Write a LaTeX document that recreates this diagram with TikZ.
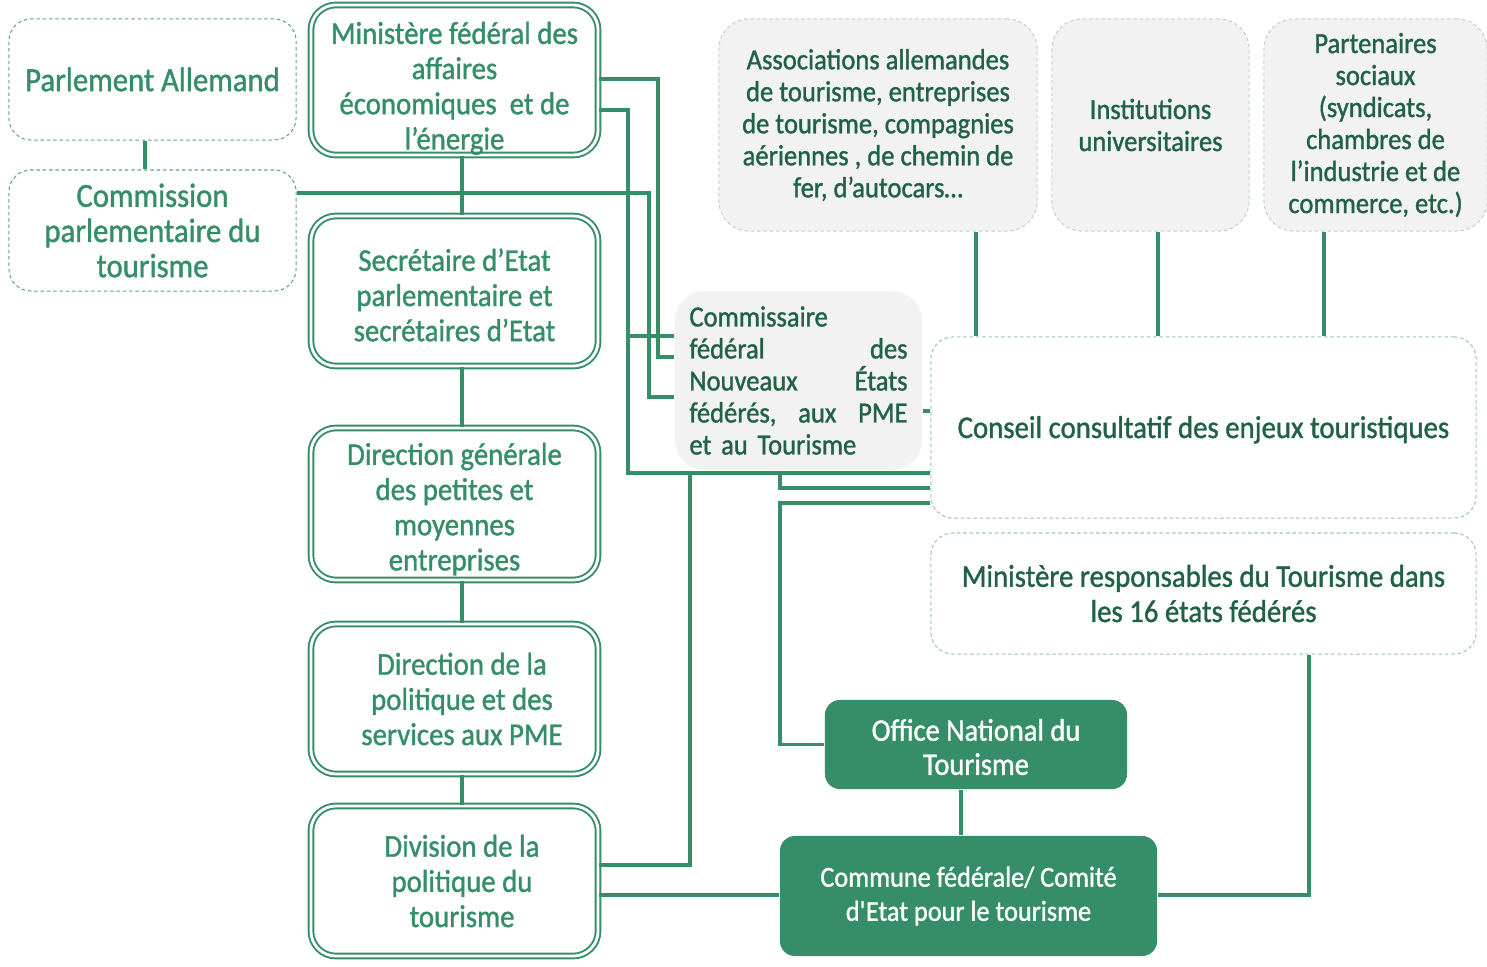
\documentclass[tikz,border=0pt]{standalone}
\usepackage{fontspec}
\setmainfont[FakeStretch=0.91, FakeBold=1.2]{Carlito}
\usetikzlibrary{positioning, calc}
\definecolor{tgreen}{RGB}{53,142,103}
\definecolor{tdark}{RGB}{33,98,70}
\definecolor{tgrey}{RGB}{242,242,242}

\tikzset{
  dashbox/.style={draw=tgreen!80, dash pattern=on 1pt off 0.8pt, line width=0.3pt, rounded corners=0.22cm,
    text=tgreen, align=center, inner sep=0pt, font=\fontsize{9.6}{10}\selectfont},
  dblbox/.style={draw=tgreen, double=white, line width=0.55pt, double distance=0.8pt,
    rounded corners=0.25cm, text=tgreen, align=center, inner sep=0pt,
    minimum width=2.87cm, minimum height=1.5cm, font=\fontsize{9}{10}\selectfont},
  greybox/.style={fill=tgrey, draw=tgreen!35, dash pattern=on 1pt off 0.8pt, line width=0.3pt,
    rounded corners=0.3cm, text=tdark, align=center, inner sep=0pt,
    minimum height=2.12cm, font=\fontsize{8.3}{9.1}\selectfont},
  fillbox/.style={fill=tgreen, text=white, rounded corners=0.15cm, align=center,
    inner sep=0pt, font=\fontsize{8.2}{9.7}\selectfont},
  link/.style={draw=tgreen, line width=0.95pt},
}

\begin{document}
\begin{tikzpicture}[x=0.01cm, y=-0.01cm]
\useasboundingbox (0,0) rectangle (1487,966);

% Parliament side
\node[dashbox, minimum width=2.87cm, minimum height=1.21cm] (parl) at (152.5,79.5) {Parlement Allemand};
\node[dashbox, minimum width=2.87cm, minimum height=1.21cm] (comm) at (152.5,230.5) {Commission\\parlementaire du\\tourisme};

% Ministry hierarchy
\node[dblbox] (min) at (454.5,80) {\rule{0pt}{11pt}Ministère fédéral des\\affaires\\économiques\ \ et de\\l’énergie};
\node[dblbox] (sec) at (454.5,291) {\rule{0pt}{8.6pt}Secrétaire d’Etat\\parlementaire et\\secrétaires d’Etat};
\node[dblbox, minimum height=1.52cm] (dgpme) at (454.5,504) {\rule{0pt}{9.2pt}Direction générale\\des petites et\\moyennes\\entreprises};
\node[dblbox] (dir) at (454.5,699) {\hspace{0.15cm}Direction de la\\\hspace{0.15cm}politique et des\\\hspace{0.15cm}services aux PME};
\node[dblbox] (div) at (454.5,881) {\hspace{0.15cm}Division de la\\\hspace{0.15cm}politique du\\\hspace{0.15cm}tourisme};

% Stakeholders
\node[greybox, minimum width=3.18cm] (assoc) at (878,125) {Associations allemandes\\de tourisme, entreprises\\de tourisme, compagnies\\aériennes , de chemin de\\fer, d’autocars…};
\node[greybox, minimum width=1.97cm] (inst) at (1150.5,125) {Institutions\\universitaires};
\node[greybox, minimum width=2.23cm] (part) at (1375.5,125) {Partenaires\\sociaux\\(syndicats,\\chambres de\\l’industrie et de\\commerce, etc.)};

% Commissioner
\node[fill=tgrey, rounded corners=0.3cm, text=tdark, inner sep=0pt, minimum width=2.47cm,
  minimum height=1.79cm, align=left, text width=2.18cm, font=\fontsize{8.3}{9.1}\selectfont]
  (commiss) at (798.5,380.5) {Commissaire\\
  \makebox[2.18cm][l]{fédéral\hfill des}\\
  \makebox[2.18cm][l]{Nouveaux\hfill États}\\
  \makebox[2.18cm][l]{fédérés,\hfill aux\hfill PME}\\
  et au Tourisme};

% Council and states
\node[dashbox, text=tdark, draw=tgreen!50, minimum width=5.45cm, minimum height=1.81cm,
  font=\fontsize{9}{10}\selectfont] (conseil) at (1203.5,427.5) {\rule{0pt}{7.5pt}Conseil consultatif des enjeux touristiques};
\node[dashbox, text=tdark, draw=tgreen!50, minimum width=5.45cm, minimum height=1.21cm,
  font=\fontsize{9}{10}\selectfont] (minl) at (1203.5,593.5) {Ministère responsables du Tourisme dans\\les 16 états fédérés};

% Tourism bodies
\node[fillbox, minimum width=3.02cm, minimum height=0.89cm, font=\fontsize{8.9}{9.7}\selectfont] (onat) at (976,744.5) {\rule{0pt}{7.6pt}Office National du\\Tourisme};
\node[fillbox, minimum width=3.77cm, minimum height=1.2cm] (commune) at (968.5,896) {Commune fédérale/ Comité\\d\textquotesingle Etat pour le tourisme};

% Left column links
\draw[link] ([xshift=-0.075cm]parl.south) -- ([xshift=-0.075cm]comm.north);
\draw[link] ([xshift=0.075cm]min.south) -- ([xshift=0.075cm]sec.north);
\draw[link] ([xshift=0.075cm]sec.south) -- ([xshift=0.075cm]dgpme.north);
\draw[link] ([xshift=0.075cm]dgpme.south) -- ([xshift=0.075cm]dir.north);
\draw[link] ([xshift=0.075cm]dir.south) -- ([xshift=0.075cm]div.north);

% Links to the commissioner
\draw[link] (min.east |- 0,79) -| (658,357) -- (commiss.west |- 0,357);
\draw[link] (min.east |- 0,110) -| (628,473) -- (conseil.west |- 0,473);
\draw[link] (628,336) -- (commiss.west |- 0,336);
\draw[link] (comm.east |- 0,193) -| (649,397) -- (commiss.west |- 0,397);
\draw[link] (commiss.east |- 0,411) -- (conseil.west |- 0,411);
\draw[link] (commiss.south -| 780,0) |- (conseil.west |- 0,488);
\draw[link] (commiss.south -| 690,0) |- (div.east |- 0,865);

% Stakeholders to council
\draw[link] (assoc.south -| 976,0) -- (conseil.north -| 976,0);
\draw[link] (inst.south -| 1158,0) -- (conseil.north -| 1158,0);
\draw[link] (part.south -| 1324,0) -- (conseil.north -| 1324,0);

% Lower links
\draw[link] (conseil.west |- 0,503) -| (onat.west -| 780,0) -- (onat.west);
\draw[link] (onat.south -| 961,0) -- (commune.north -| 961,0);
\draw[link] (div.east |- 0,895) -- (commune.west |- 0,895);
\draw[link] (minl.south -| 1309,0) |- (commune.east |- 0,895);
\end{tikzpicture}
\end{document}
